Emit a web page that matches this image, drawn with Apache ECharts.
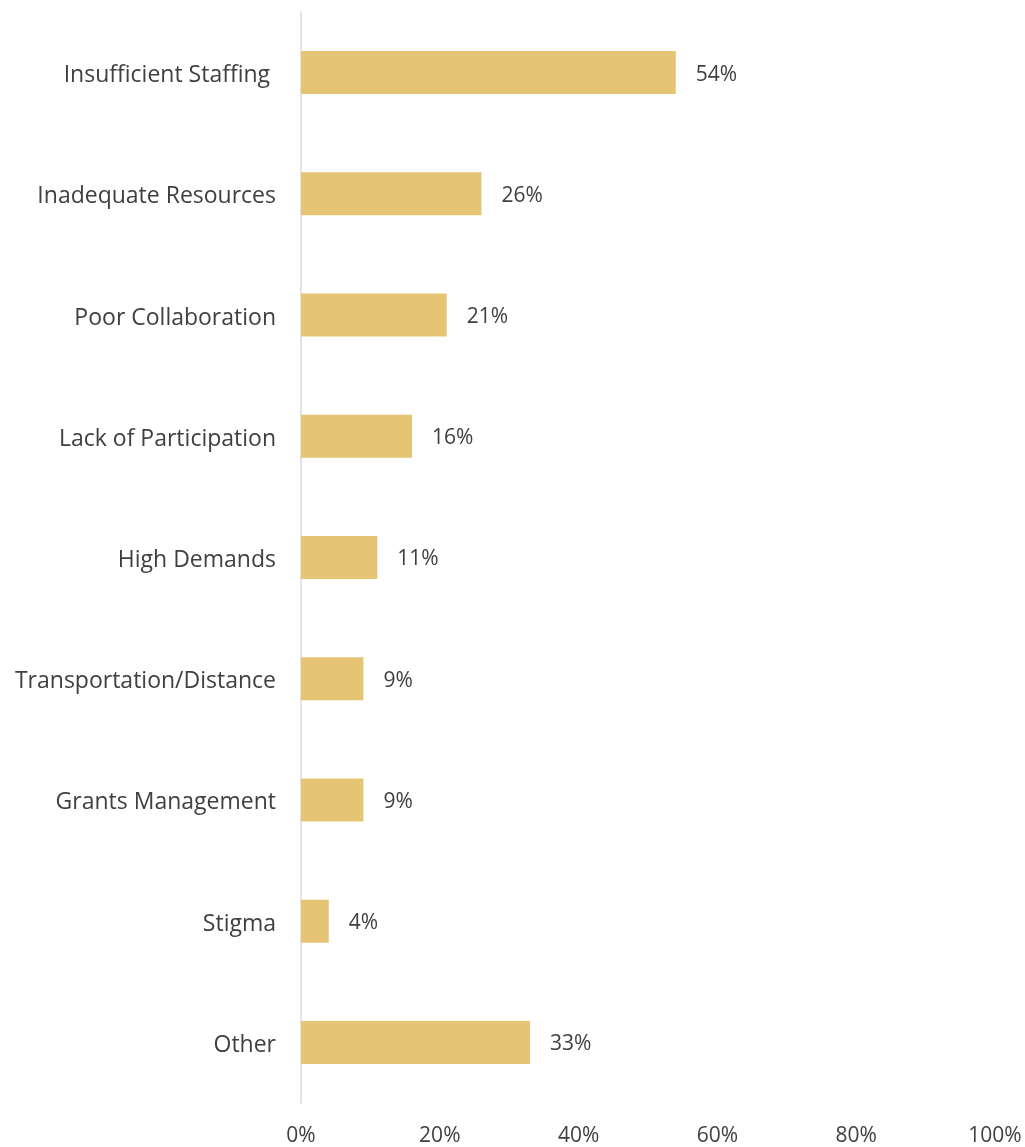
<!DOCTYPE html>
<html>
<head>
<meta charset="utf-8">
<script src="https://cdn.jsdelivr.net/npm/echarts@6/dist/echarts.min.js"></script>
<style>
  html, body { margin: 0; padding: 0; background: #ffffff; }
  #chart { width: 1025px; height: 1147px; }
</style>
</head>
<body>
<div id="chart"></div>
<script>
// Reported barriers, share of respondents (%)
const categories = [
  'Insufficient Staffing ',
  'Inadequate Resources',
  'Poor Collaboration',
  'Lack of Participation',
  'High Demands',
  'Transportation/Distance',
  'Grants Management',
  'Stigma',
  'Other'
];
const shares = [54, 26, 21, 16, 11, 9, 9, 4, 33];
const axisTicks = [0, 20, 40, 60, 80, 100];

const FONT = '"Open Sans", sans-serif';
const TEXT = '#404040';

const chart = echarts.init(document.getElementById('chart'));
chart.setOption({
  animation: false,
  backgroundColor: '#ffffff',
  grid: { left: 301, right: 30, top: 12, bottom: 42, containLabel: false },
  xAxis: {
    type: 'value',
    min: axisTicks[0],
    max: axisTicks[axisTicks.length - 1],
    interval: axisTicks[1] - axisTicks[0],
    axisLine: { show: false },
    axisTick: { show: false },
    splitLine: { show: false },
    axisLabel: {
      formatter: '{value}%',
      color: TEXT,
      fontFamily: FONT,
      fontSize: 21,
      margin: 23
    }
  },
  yAxis: {
    type: 'category',
    inverse: true,
    data: categories,
    axisLine: { show: true, lineStyle: { color: '#e3e3e3', width: 2 } },
    axisTick: { show: false },
    axisLabel: {
      color: TEXT,
      fontFamily: FONT,
      fontSize: 23,
      margin: 25,
      verticalAlign: 'top',
      lineHeight: 6
    }
  },
  series: [{
    type: 'bar',
    data: shares,
    barWidth: 43,
    itemStyle: { color: '#e5c574' },
    label: {
      show: true,
      position: 'right',
      distance: 20,
      offset: [0, 2],
      formatter: '{c}%',
      color: TEXT,
      fontFamily: FONT,
      fontSize: 21
    }
  }]
});
</script>
</body>
</html>
